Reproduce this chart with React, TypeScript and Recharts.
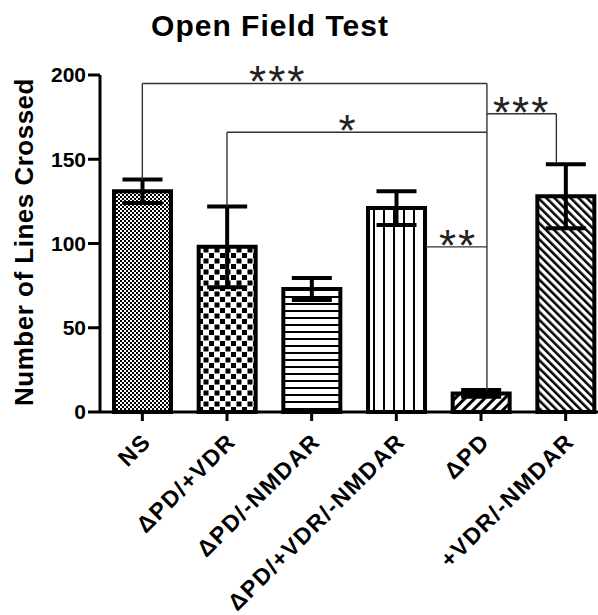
import { BarChart, Bar, XAxis, YAxis, ErrorBar, Cell, ReferenceLine, ReferenceDot } from 'recharts';

const groups = ['NS', 'ΔPD/+VDR', 'ΔPD/-NMDAR', 'ΔPD/+VDR/-NMDAR', 'ΔPD', '+VDR/-NMDAR'];
const means = [131, 98, 73, 121, 11, 128];
const sems = [7, 24, 6.5, 10, 2, 19];
const yTicks = [0, 50, 100, 150, 200];

// significance brackets, in category index / value units
const sigLines = [
  { x1: 0, y1: 138, x2: 0, y2: 195 },
  { x1: 0, y1: 195, x2: 4.07, y2: 195 },
  { x1: 4.07, y1: 195, x2: 4.07, y2: 13 },
  { x1: 1, y1: 122, x2: 1, y2: 166 },
  { x1: 1, y1: 166, x2: 4.07, y2: 166 },
  { x1: 3.35, y1: 98, x2: 4.07, y2: 98 },
  { x1: 4.07, y1: 177, x2: 4.89, y2: 177 },
  { x1: 4.89, y1: 177, x2: 4.89, y2: 148 },
];
const sigStars = [
  { x: 1.6, y: 195, text: '***' },
  { x: 2.43, y: 166, text: '*' },
  { x: 3.73, y: 98, text: '**' },
  { x: 4.48, y: 177, text: '***' },
];

const data = groups.map((name, i) => ({ name, idx: i, value: means[i], err: sems[i] }));

const FONT = 'Liberation Sans, Arial, Helvetica, sans-serif';
const CHART_W = 620;
const MARGIN = { top: 75, right: 12, bottom: 3, left: 60 };
const Y_W = 40;
// half a category band, so index i sits on the bar centre
const halfBand = (CHART_W - MARGIN.left - MARGIN.right - Y_W) / groups.length / 2;

const XTick = ({ x, y, payload }: any) => (
  <g transform={`translate(${x + 10},${y + 20})`}>
    <text
      textAnchor="end"
      transform="rotate(-45)"
      fontFamily={FONT}
      fontSize={23}
      fontWeight="bold"
      letterSpacing={1.5}
      fill="#000"
    >
      {payload.value}
    </text>
  </g>
);

const starLabel = (text: string) => (props: any) => {
  const vb = props.viewBox || {};
  const cx = (vb.x || 0) + (vb.width || 0) / 2;
  const cy = (vb.y || 0) + (vb.height || 0) / 2;
  return (
    <text x={cx} y={cy + 14} textAnchor="middle" fontFamily={FONT} fontSize={44} letterSpacing={2} fill="#222">
      {text}
    </text>
  );
};

export default function App() {
  return (
    <div style={{ position: 'absolute', left: 0, top: 0, width: 598, height: 615, overflow: 'hidden', background: '#fff' }}>
      <BarChart width={CHART_W} height={615} data={data} margin={MARGIN}>
        <defs>
          <pattern id="p0" width="4" height="4" patternUnits="userSpaceOnUse">
            <rect width="4" height="4" fill="#fff" />
            <rect width="2" height="2" fill="#000" />
            <rect x="2" y="2" width="2" height="2" fill="#000" />
          </pattern>
          <pattern id="p1" width="11" height="11" patternUnits="userSpaceOnUse">
            <rect width="11" height="11" fill="#fff" />
            <rect width="5" height="5" fill="#000" />
            <rect x="5.5" y="5.5" width="5" height="5" fill="#000" />
          </pattern>
          <pattern id="p2" width="7" height="7" patternUnits="userSpaceOnUse">
            <rect width="7" height="7" fill="#fff" />
            <rect y="2" width="7" height="2" fill="#000" />
          </pattern>
          <pattern id="p3" width="10" height="10" patternUnits="userSpaceOnUse">
            <rect width="10" height="10" fill="#fff" />
            <rect x="3" width="2" height="10" fill="#000" />
          </pattern>
          <pattern id="p4" width="7" height="7" patternUnits="userSpaceOnUse" patternTransform="rotate(45)">
            <rect width="7" height="7" fill="#fff" />
            <rect width="3" height="7" fill="#000" />
          </pattern>
          <pattern id="p5" width="5.7" height="5.7" patternUnits="userSpaceOnUse" patternTransform="rotate(-45)">
            <rect width="5.7" height="5.7" fill="#fff" />
            <rect width="2.5" height="5.7" fill="#000" />
          </pattern>
        </defs>
        <XAxis
          dataKey="name"
          interval={0}
          height={200}
          tick={<XTick />}
          tickSize={9}
          axisLine={{ stroke: '#000', strokeWidth: 3 }}
          tickLine={{ stroke: '#000', strokeWidth: 3 }}
        />
        <XAxis
          xAxisId="num"
          dataKey="idx"
          type="number"
          domain={[0, groups.length - 1]}
          padding={{ left: halfBand, right: halfBand }}
          hide
        />
        <YAxis
          width={Y_W}
          domain={[0, 200]}
          ticks={yTicks}
          tickSize={12}
          axisLine={{ stroke: '#000', strokeWidth: 3 }}
          tickLine={{ stroke: '#000', strokeWidth: 3 }}
          tick={{ fill: '#000', fontSize: 21, fontWeight: 'bold', fontFamily: FONT }}
        />
        <Bar dataKey="value" barSize={57} stroke="#000" strokeWidth={4} isAnimationActive={false}>
          {data.map((d, i) => (
            <Cell key={d.name} fill={`url(#p${i})`} />
          ))}
          <ErrorBar dataKey="err" width={20} stroke="#000" strokeWidth={4} />
        </Bar>
        {sigLines.map((s, i) => (
          <ReferenceLine
            key={`l${i}`}
            xAxisId="num"
            segment={[{ x: s.x1, y: s.y1 }, { x: s.x2, y: s.y2 }]}
            stroke="#333"
            strokeWidth={1.4}
            ifOverflow="visible"
          />
        ))}
        {sigStars.map((s, i) => (
          <ReferenceDot
            key={`s${i}`}
            xAxisId="num"
            x={s.x}
            y={s.y}
            r={0}
            fill="none"
            stroke="none"
            ifOverflow="visible"
            label={starLabel(s.text)}
          />
        ))}
      </BarChart>
      <svg width={598} height={615} style={{ position: 'absolute', left: 0, top: 0, pointerEvents: 'none' }}>
        <text x={270} y={36} textAnchor="middle" fontFamily={FONT} fontSize={30} fontWeight="bold" letterSpacing={1} fill="#000">
          Open Field Test
        </text>
        <text
          x={33}
          y={242}
          textAnchor="middle"
          transform="rotate(-90, 33, 242)"
          fontFamily={FONT}
          fontSize={26}
          fontWeight="bold"
          letterSpacing={0.5}
          fill="#000"
        >
          Number of Lines Crossed
        </text>
      </svg>
    </div>
  );
}
